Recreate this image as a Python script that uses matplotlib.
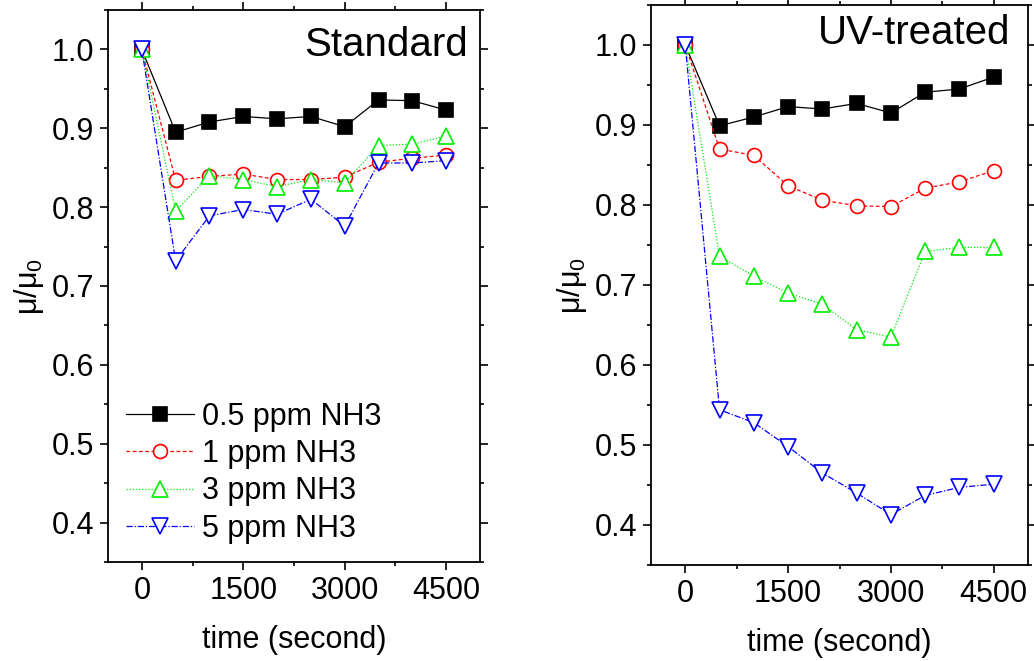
import matplotlib
matplotlib.use("Agg")
import matplotlib.pyplot as plt
from matplotlib.ticker import MultipleLocator, FormatStrFormatter

plt.rcParams["font.family"] = ["Liberation Sans", "DejaVu Sans"]
plt.rcParams["mathtext.fontset"] = "custom"
plt.rcParams["mathtext.rm"] = "Liberation Sans"
plt.rcParams["mathtext.it"] = "Liberation Sans:italic"

time_s = [0, 500, 1000, 1500, 2000, 2500, 3000, 3500, 4000, 4500]
labels = ["0.5 ppm NH3", "1 ppm NH3", "3 ppm NH3", "5 ppm NH3"]

# Standard device
std_05 = [1.0, 0.895, 0.908, 0.915, 0.912, 0.915, 0.902, 0.936, 0.935, 0.923]
std_1 = [1.0, 0.834, 0.839, 0.842, 0.835, 0.835, 0.838, 0.857, 0.862, 0.866]
std_3 = [1.0, 0.795, 0.840, 0.835, 0.826, 0.835, 0.831, 0.878, 0.880, 0.890]
std_5 = [1.0, 0.732, 0.789, 0.797, 0.791, 0.810, 0.776, 0.856, 0.856, 0.859]

# UV-treated device
uv_05 = [1.0, 0.899, 0.910, 0.923, 0.920, 0.927, 0.915, 0.941, 0.945, 0.960]
uv_1 = [1.0, 0.870, 0.862, 0.824, 0.806, 0.799, 0.798, 0.821, 0.829, 0.843]
uv_3 = [1.0, 0.736, 0.711, 0.690, 0.676, 0.644, 0.635, 0.742, 0.747, 0.747]
uv_5 = [1.0, 0.544, 0.528, 0.498, 0.465, 0.440, 0.413, 0.437, 0.447, 0.451]

# open symbols get a white fill so the line stops at the symbol edge (Origin look)
styles = [
    dict(color="black", ls="-", marker="s", ms=10, mfc="black", mec="black"),
    dict(color="red", ls=(0, (3, 2)), marker="o", ms=10, mfc="white", mec="red"),
    dict(color="#00ee00", ls=(0, (1, 1.5)), marker="^", ms=11, mfc="white", mec="#00ee00"),
    dict(color="blue", ls=(0, (5, 1.5, 1, 1.5)), marker="v", ms=11, mfc="white", mec="blue"),
]

W, H = 1034, 661
fig = plt.figure(figsize=(W / 100, H / 100), dpi=100)
ax1 = fig.add_axes([108 / W, 1 - 562 / H, (480 - 108) / W, (562 - 10) / H])
ax2 = fig.add_axes([651 / W, 1 - 565 / H, (1028 - 651) / W, (565 - 5) / H])

panels = [(ax1, [std_05, std_1, std_3, std_5], "Standard", (0.968, 0.937)),
          (ax2, [uv_05, uv_1, uv_3, uv_5], "UV-treated", (0.952, 0.95))]

for ax, series, title, tpos in panels:
    for ys, st, lab in zip(series, styles, labels):
        ax.plot(time_s, ys, lw=0.9, mew=1.2, label=lab, **st)
    ax.set_xlim(-500, 5000)
    ax.set_ylim(0.35, 1.05)
    ax.xaxis.set_major_locator(MultipleLocator(1500))
    ax.xaxis.set_minor_locator(MultipleLocator(750))
    ax.yaxis.set_major_locator(MultipleLocator(0.1))
    ax.yaxis.set_minor_locator(MultipleLocator(0.05))
    ax.yaxis.set_major_formatter(FormatStrFormatter("%.1f"))
    ax.tick_params(which="both", labelsize=22, width=1.2, pad=4,
                   top=True, right=True)
    ax.tick_params(which="major", length=6)
    ax.tick_params(which="minor", length=3)
    for s in ax.spines.values():
        s.set_linewidth(1.3)
    ax.set_xlabel("time (second)", fontsize=22, labelpad=14)
    ax.set_ylabel(r"μ/μ$_{\rm 0}$", fontsize=22, labelpad=4)
    ax.text(tpos[0], tpos[1], title, transform=ax.transAxes, ha="right",
            va="center", fontsize=29)

ax1.legend(loc="lower left", bbox_to_anchor=(0.0, 0.0), frameon=False,
           fontsize=22, handlelength=2.2, handletextpad=0.26, labelspacing=0.24,
           borderaxespad=0.2)

fig.savefig("out.png", dpi=100)
